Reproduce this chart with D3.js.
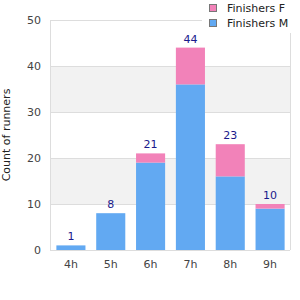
<!DOCTYPE html>
<html>
<head>
<meta charset="utf-8">
<style>
body { margin: 0; background: #fff; }
text { font-family: "DejaVu Sans", sans-serif; }
</style>
<script src="https://cdn.jsdelivr.net/npm/d3@7"></script>
</head>
<body>
<svg id="chart" width="300" height="300"></svg>
<script>
var hours = ["4h", "5h", "6h", "7h", "8h", "9h"];
var finishersM = [1, 8, 19, 36, 16, 9];
var finishersF = [0, 0, 2, 8, 7, 1];
var yTicks = [0, 10, 20, 30, 40, 50];

var svg = d3.select("#chart");
var pLeft = 51, pRight = 290, pTop = 20, pBottom = 250;

var x = d3.scaleBand().domain(hours).range([pLeft, pRight]).paddingInner(0.27).paddingOuter(0.135);
var y = d3.scaleLinear().domain([0, 50]).range([pBottom, pTop]);

// alternating bands
for (var i = 0; i < yTicks.length - 1; i++) {
  svg.append("rect")
    .attr("x", pLeft).attr("width", pRight - pLeft)
    .attr("y", y(yTicks[i + 1])).attr("height", y(yTicks[i]) - y(yTicks[i + 1]))
    .attr("fill", i % 2 == 1 ? "#f2f2f2" : "#fff");
}
svg.selectAll("line.grid").data(yTicks).enter().append("line")
  .attr("x1", pLeft).attr("x2", pRight)
  .attr("y1", function(d) { return y(d) + 0.5; }).attr("y2", function(d) { return y(d) + 0.5; })
  .attr("stroke", "#ddd");
svg.append("line").attr("x1", pRight + 0.5).attr("x2", pRight + 0.5).attr("y1", pTop).attr("y2", pBottom)
  .attr("stroke", "#ddd");
svg.append("line").attr("x1", pLeft - 0.5).attr("x2", pLeft - 0.5).attr("y1", pTop).attr("y2", pBottom + 1)
  .attr("stroke", "#ddd");

var data = hours.map(function(h, i) { return { h: h, m: finishersM[i], f: finishersF[i] }; });

svg.selectAll("rect.m").data(data).enter().append("rect")
  .attr("x", function(d) { return x(d.h); }).attr("width", x.bandwidth())
  .attr("y", function(d) { return y(d.m); }).attr("height", function(d) { return y(0) - y(d.m); })
  .attr("fill", "#62a9f2");
svg.selectAll("rect.f").data(data).enter().append("rect")
  .attr("x", function(d) { return x(d.h); }).attr("width", x.bandwidth())
  .attr("y", function(d) { return y(d.m + d.f); }).attr("height", function(d) { return y(d.m) - y(d.m + d.f); })
  .attr("fill", "#f282b9");

svg.selectAll("text.total").data(data).enter().append("text")
  .attr("x", function(d) { return x(d.h) + x.bandwidth() / 2; })
  .attr("y", function(d) { return y(d.m + d.f) - 5; })
  .attr("text-anchor", "middle").attr("font-size", 11).attr("fill", "#1a1a8c")
  .text(function(d) { return d.m + d.f; });

// axes
var yAxis = svg.append("g").attr("transform", "translate(" + pLeft + ",0)")
  .call(d3.axisLeft(y).tickValues(yTicks).tickSize(0).tickPadding(10));
yAxis.select(".domain").remove();
yAxis.selectAll("text").attr("font-size", 11).attr("fill", "#444").attr("font-family", "DejaVu Sans, sans-serif");

var xAxis = svg.append("g").attr("transform", "translate(0," + pBottom + ")")
  .call(d3.axisBottom(x).tickSize(0).tickPadding(10));
xAxis.select(".domain").remove();
xAxis.selectAll("text").attr("font-size", 11).attr("fill", "#444").attr("font-family", "DejaVu Sans, sans-serif");

svg.append("text").attr("transform", "translate(10," + ((pTop + pBottom) / 2) + ") rotate(-90)")
  .attr("text-anchor", "middle").attr("font-size", 11).attr("fill", "#222")
  .text("Count of runners");

// legend
var legendNames = ["Finishers F", "Finishers M"];
var legendColors = ["#f282b9", "#62a9f2"];
svg.append("rect").attr("x", 202).attr("y", 0).attr("width", 98).attr("height", 33).attr("fill", "#fff");
legendNames.forEach(function(n, i) {
  svg.append("rect").attr("x", 209.5).attr("y", 4.5 + i * 15).attr("width", 7).attr("height", 7)
    .attr("fill", legendColors[i]).attr("stroke", "#777");
  svg.append("text").attr("x", 227).attr("y", 12 + i * 15).attr("font-size", 11).attr("fill", "#222").text(n);
});
</script>
</body>
</html>
